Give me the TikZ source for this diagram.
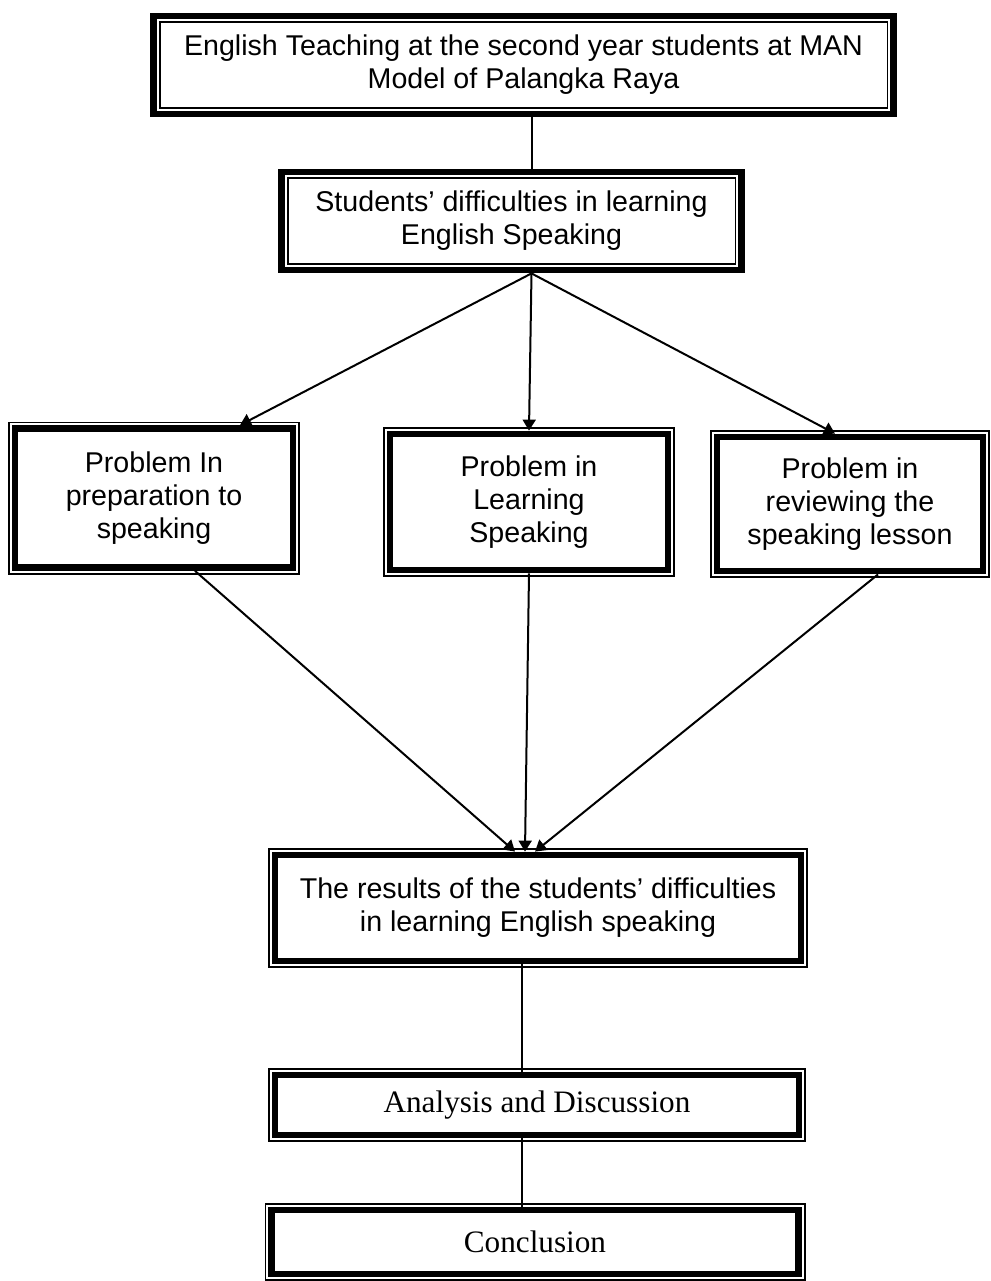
\documentclass[tikz,border=0pt]{standalone}
\usepackage{fontspec}
\setmainfont{Liberation Serif}
\setsansfont{Liberation Sans}
\usetikzlibrary{
  arrows.meta,
  calc,
  positioning
}
\tikzset{
  >={Triangle[length=5.5pt,width=6.5pt]},
  line/.style={draw=black, line width=1pt, ->},
  conn/.style={draw=black, line width=1pt},
  frame/.style={
    draw=black,
    fill=white,
    rectangle,
    line width=3.4pt,
    align=center,
    inner sep=2pt
  },
  sansbox/.style={frame, font=\sffamily\fontsize{14.3}{16.5}\selectfont},
  serifbox/.style={frame, font=\rmfamily\fontsize{15.6}{17}\selectfont},
  rim/.style={draw=black, line width=0.8pt}
}

\begin{document}
\begin{tikzpicture}[x=0.5pt, y=-0.5pt]
  \useasboundingbox (0,0) rectangle (991,1281);

  \node[sansbox, minimum width=370pt, minimum height=49pt] (teaching) at (523.5,65)
    {English Teaching at the second year students at MAN\\Model of Palangka Raya};
  \node[sansbox, minimum width=230pt, minimum height=49pt] (difficulty) at (511.5,221)
    {Students' difficulties in learning\\English Speaking};

  \node[sansbox, minimum width=139pt, minimum height=69.5pt] (prep) at (154,498)
    {Problem In\\preparation to\\speaking};
  \node[sansbox, minimum width=139pt, minimum height=68pt] (learn) at (529,502)
    {Problem in\\Learning\\Speaking};
  \node[sansbox, minimum width=133pt, minimum height=67pt] (review) at (850,504)
    {Problem in\\reviewing the\\speaking lesson};

  \node[sansbox, minimum width=263pt, minimum height=53pt] (result) at (538,908)
    {The results of the students' difficulties\\in learning English speaking};
  \node[serifbox, minimum width=262pt, minimum height=30pt] (analysis) at (537,1105)
    {Analysis and Discussion};
  \node[serifbox, minimum width=263.5pt, minimum height=32pt] (concl) at (535,1242)
    {Conclusion};

  % thin rims of the double frames
  \foreach \n in {teaching,difficulty}
    \draw[rim] ($(\n.south west)+(4.8pt,4.8pt)$) rectangle ($(\n.north east)+(-4.8pt,-4.8pt)$);
  \foreach \n in {prep,learn,review,result,analysis,concl}
    \draw[rim] ($(\n.south west)+(-1.4pt,-1.4pt)$) rectangle ($(\n.north east)+(1.4pt,1.4pt)$);

  \coordinate (hub) at ($(difficulty.south)+(20,0)$);
  \draw[conn] (teaching.south -| hub) -- (difficulty.north -| hub);
  \draw[line] (hub) -- ($(prep.north)+(86,0)$);
  \draw[line] (hub) -- (learn.north);
  \draw[line] (hub) -- ($(review.north)+(-15,0)$);

  \coordinate (sink) at ($(result.north)+(-13,0)$);
  \draw[line] ($(prep.south)+(41,0)$) -- ($(sink)+(-10,0)$);
  \draw[line] (learn.south) -- (sink);
  \draw[line] ($(review.south)+(28,0)$) -- ($(sink)+(10,0)$);

  \coordinate (trunk) at ($(result.south)+(-16,0)$);
  \draw[conn] (trunk) -- (analysis.north -| trunk);
  \draw[conn] (analysis.south -| trunk) -- (concl.north -| trunk);
\end{tikzpicture}
\end{document}
